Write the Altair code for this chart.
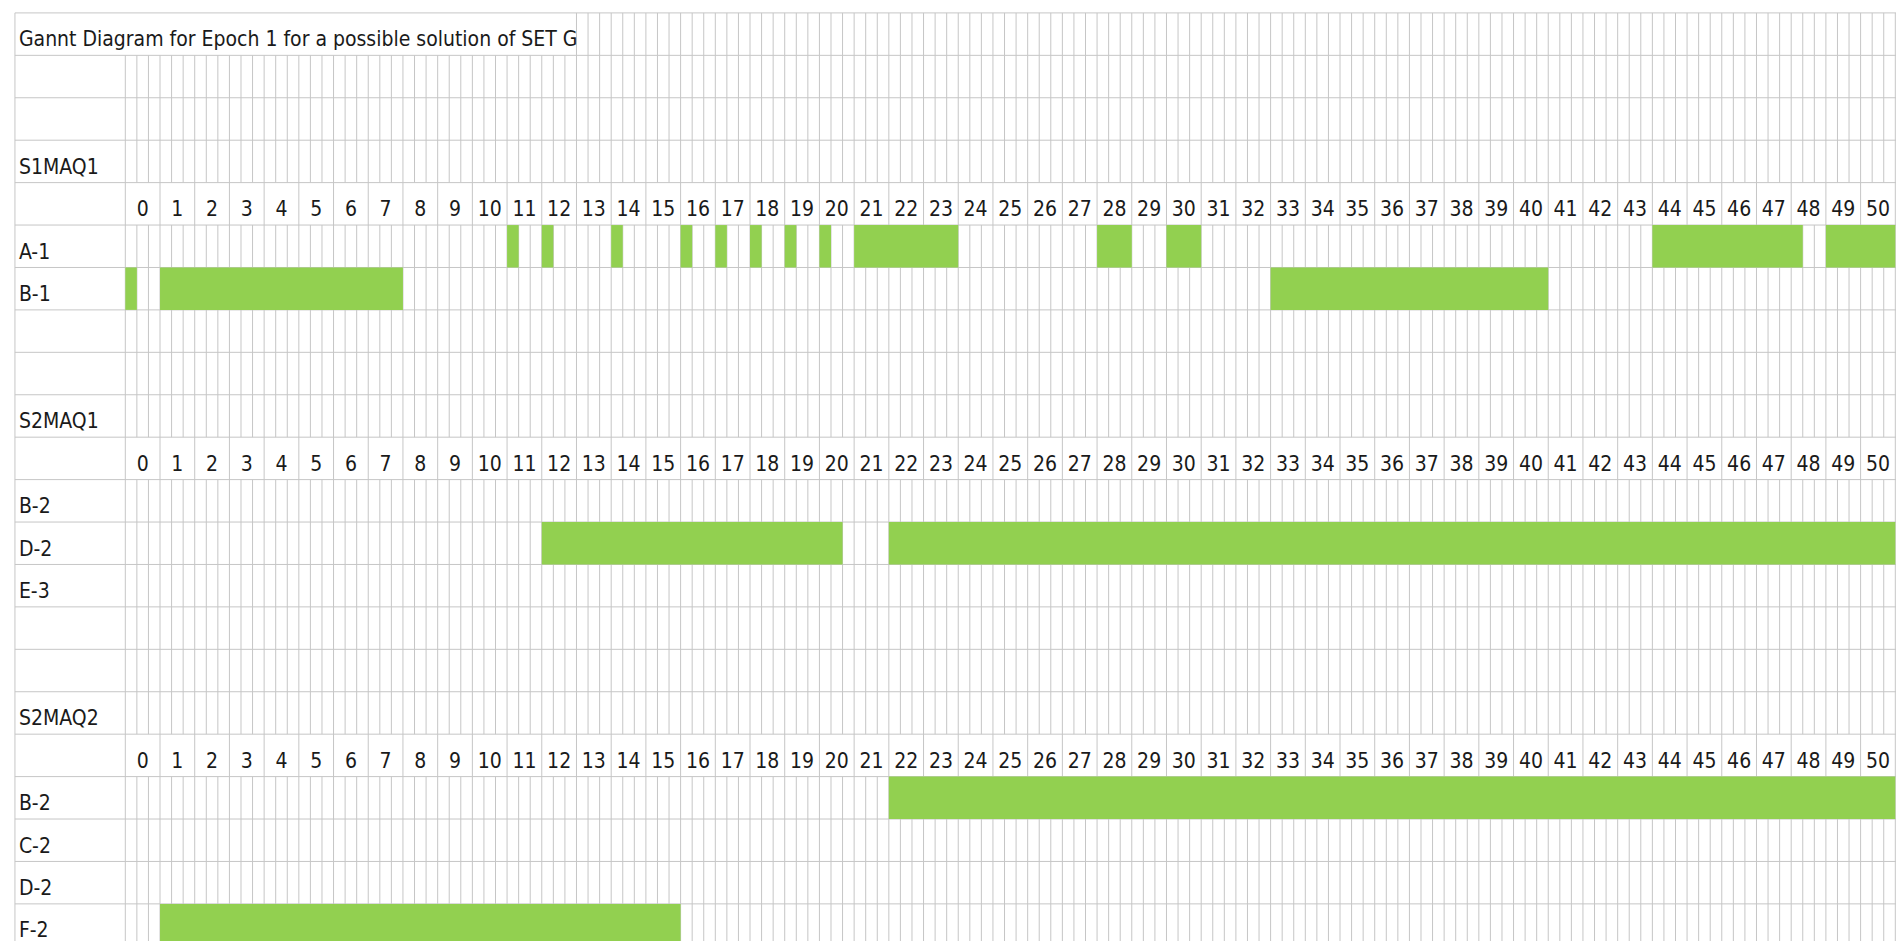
import altair as alt
import pandas as pd

# ---------------- data ----------------
TITLE = "Gannt Diagram for Epoch 1 for a possible solution of SET G"
row_labels = [TITLE, "", "", "S1MAQ1", "", "A-1", "B-1", "", "", "S2MAQ1", "",
              "B-2", "D-2", "E-3", "", "", "S2MAQ2", "", "B-2", "C-2", "D-2", "F-2"]
header_rows = [4, 10, 17]
time_labels = list(range(0, 51))

# S1MAQ1
a1_start = [11, 12, 14, 16, 17, 18, 19, 20, 21, 28, 30, 44, 49]
a1_end = [11 + 1/3, 12 + 1/3, 14 + 1/3, 16 + 1/3, 17 + 1/3, 18 + 1/3, 19 + 1/3,
          20 + 1/3, 24, 29, 31, 48 + 1/3, 51]
b1_start = [0, 1, 33]
b1_end = [1/3, 8, 41]
# S2MAQ1
d2a_start = [12, 22]
d2a_end = [20 + 2/3, 51]
# S2MAQ2
b2b_start = [22]
b2b_end = [51]
f2_start = [1]
f2_end = [16]

bars_by_row = {5: (a1_start, a1_end), 6: (b1_start, b1_end),
               12: (d2a_start, d2a_end), 18: (b2b_start, b2b_end),
               21: (f2_start, f2_end)}

# ---------------- layout (in reference pixels -> units) ----------------
UNIT_PX = 35.0
ROW_PX = 43.2
LABEL_COL_PX = 118.3
XMIN = -LABEL_COL_PX / UNIT_PX
XMAX = (1904 - LABEL_COL_PX) / UNIT_PX
YMAX = 950 / ROW_PX
TOP0 = 5 / ROW_PX
XLEFT_LINE = (7 - LABEL_COL_PX) / UNIT_PX
XTEXT = (11 - LABEL_COL_PX) / UNIT_PX
TITLE_GRID_START = 13
BASE = 1 - 9 / ROW_PX
N_ROWS = len(row_labels)


def top(r):
    return TOP0 + r


GREEN = "#92D050"
GRID = "#c6c6c6"
FONT = "Liberation Sans Narrow, DejaVu Sans Condensed, Roboto Condensed, Arial Narrow, sans-serif"

xs = alt.Scale(domain=[XMIN, XMAX], nice=False, zero=False)
ys = alt.Scale(domain=[0, YMAX], reverse=True, nice=False, zero=False)

# vertical grid segments
normal_blocks = [(1, 4), (5, 10), (11, 17), (18, N_ROWS)]
vseg = []
n_sub = 51 * 3
for k in range(0, n_sub + 1):
    xv = k / 3
    if k % 3 == 0:
        vseg.append({"x": xv, "y": top(1), "y2": top(N_ROWS)})
    else:
        for a, b in normal_blocks:
            vseg.append({"x": xv, "y": top(a), "y2": top(b)})
    if xv >= TITLE_GRID_START:
        vseg.append({"x": xv, "y": top(0), "y2": top(1)})
vseg.append({"x": XLEFT_LINE, "y": top(0), "y2": top(N_ROWS)})
vdf = pd.DataFrame(vseg)

hdf = pd.DataFrame([{"y": top(i), "x": XLEFT_LINE, "x2": XMAX} for i in range(N_ROWS + 1)])

bars = []
for r, (ss, ee) in bars_by_row.items():
    for s, e in zip(ss, ee):
        bars.append({"x": s, "x2": e, "y": top(r), "y2": top(r) + 1})
bdf = pd.DataFrame(bars)

lab = [{"x": XTEXT, "y": top(i) + BASE, "t": t} for i, t in enumerate(row_labels) if t]
ldf = pd.DataFrame(lab)

hd = [{"x": k + 0.5, "y": top(r) + BASE, "t": str(k)} for r in header_rows for k in time_labels]
hdf_t = pd.DataFrame(hd)

vlines = alt.Chart(vdf).mark_rule(color=GRID, strokeWidth=1, clip=True).encode(
    x=alt.X("x:Q", scale=xs, axis=None),
    y=alt.Y("y:Q", scale=ys, axis=None),
    y2="y2:Q",
)
hlines = alt.Chart(hdf).mark_rule(color=GRID, strokeWidth=1, clip=True).encode(
    x=alt.X("x:Q", scale=xs, axis=None),
    x2="x2:Q",
    y=alt.Y("y:Q", scale=ys, axis=None),
)
barl = alt.Chart(bdf).mark_rect(color=GREEN, clip=True).encode(
    x=alt.X("x:Q", scale=xs, axis=None),
    x2="x2:Q",
    y=alt.Y("y:Q", scale=ys, axis=None),
    y2="y2:Q",
)
labels = alt.Chart(ldf).mark_text(align="left", baseline="alphabetic", font=FONT,
                                  fontSize=21, color="#1a1a1a").encode(
    x=alt.X("x:Q", scale=xs, axis=None),
    y=alt.Y("y:Q", scale=ys, axis=None),
    text="t:N",
)
nums = alt.Chart(hdf_t).mark_text(align="center", baseline="alphabetic", font=FONT,
                                  fontSize=21, color="#1a1a1a").encode(
    x=alt.X("x:Q", scale=xs, axis=None),
    y=alt.Y("y:Q", scale=ys, axis=None),
    text="t:N",
)

chart = alt.layer(vlines, hlines, barl, labels, nums).properties(
    width=1888, height=934,
    autosize=alt.AutoSizeParams(type="fit", contains="padding"),
    padding=0, background="white",
).configure_view(stroke=None)

chart.save("out.html", embed_options={"renderer": "svg", "actions": False})
